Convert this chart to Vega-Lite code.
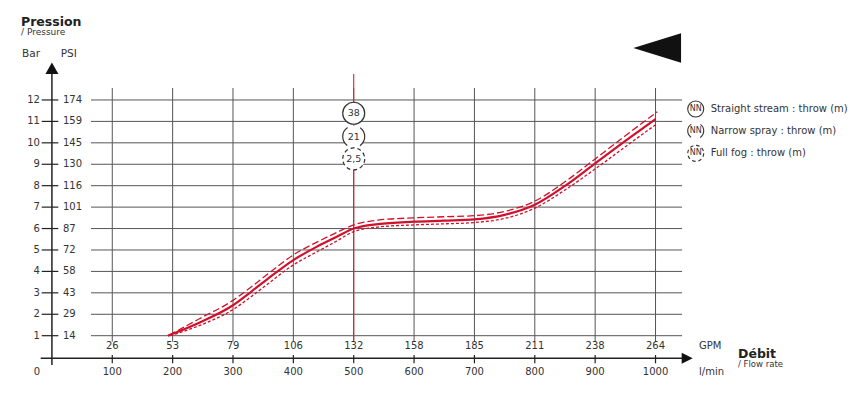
{
  "$schema": "https://vega.github.io/schema/vega-lite/v6.json",
  "width": 850,
  "height": 402,
  "padding": 0,
  "autosize": {"type": "none"},
  "background": "white",
  "config": {
    "view": {"stroke": null},
    "text": {"font": "DejaVu Sans", "fill": "#333", "fontSize": 10}
  },
  "datasets": {
    "bars": [
      {"bar": 1, "psi": 14}, {"bar": 2, "psi": 29}, {"bar": 3, "psi": 43}, {"bar": 4, "psi": 58},
      {"bar": 5, "psi": 72}, {"bar": 6, "psi": 87}, {"bar": 7, "psi": 101}, {"bar": 8, "psi": 116},
      {"bar": 9, "psi": 130}, {"bar": 10, "psi": 145}, {"bar": 11, "psi": 159}, {"bar": 12, "psi": 174}
    ],
    "flows": [
      {"lmin": 100, "gpm": 26}, {"lmin": 200, "gpm": 53}, {"lmin": 300, "gpm": 79}, {"lmin": 400, "gpm": 106},
      {"lmin": 500, "gpm": 132}, {"lmin": 600, "gpm": 158}, {"lmin": 700, "gpm": 185}, {"lmin": 800, "gpm": 211},
      {"lmin": 900, "gpm": 238}, {"lmin": 1000, "gpm": 264}
    ],
    "curves": [
      {"lmin": 192, "bar": 1.0, "series": "solid"}, {"lmin": 245, "bar": 1.62, "series": "solid"},
      {"lmin": 300, "bar": 2.42, "series": "solid"}, {"lmin": 330, "bar": 3.05, "series": "solid"},
      {"lmin": 356, "bar": 3.62, "series": "solid"}, {"lmin": 400, "bar": 4.53, "series": "solid"},
      {"lmin": 440, "bar": 5.17, "series": "solid"}, {"lmin": 472, "bar": 5.62, "series": "solid"},
      {"lmin": 500, "bar": 6.0, "series": "solid"}, {"lmin": 540, "bar": 6.21, "series": "solid"},
      {"lmin": 600, "bar": 6.32, "series": "solid"}, {"lmin": 650, "bar": 6.37, "series": "solid"},
      {"lmin": 700, "bar": 6.43, "series": "solid"}, {"lmin": 750, "bar": 6.64, "series": "solid"},
      {"lmin": 800, "bar": 7.11, "series": "solid"}, {"lmin": 850, "bar": 7.99, "series": "solid"},
      {"lmin": 900, "bar": 9.04, "series": "solid"}, {"lmin": 950, "bar": 10.09, "series": "solid"},
      {"lmin": 1000, "bar": 11.11, "series": "solid"},
      {"lmin": 194, "bar": 1.02, "series": "long"}, {"lmin": 245, "bar": 1.8, "series": "long"},
      {"lmin": 300, "bar": 2.65, "series": "long"}, {"lmin": 330, "bar": 3.27, "series": "long"},
      {"lmin": 356, "bar": 3.84, "series": "long"}, {"lmin": 400, "bar": 4.77, "series": "long"},
      {"lmin": 440, "bar": 5.38, "series": "long"}, {"lmin": 472, "bar": 5.82, "series": "long"},
      {"lmin": 500, "bar": 6.17, "series": "long"}, {"lmin": 540, "bar": 6.39, "series": "long"},
      {"lmin": 600, "bar": 6.5, "series": "long"}, {"lmin": 650, "bar": 6.55, "series": "long"},
      {"lmin": 700, "bar": 6.6, "series": "long"}, {"lmin": 750, "bar": 6.8, "series": "long"},
      {"lmin": 800, "bar": 7.28, "series": "long"}, {"lmin": 850, "bar": 8.18, "series": "long"},
      {"lmin": 900, "bar": 9.25, "series": "long"}, {"lmin": 950, "bar": 10.33, "series": "long"},
      {"lmin": 1003, "bar": 11.45, "series": "long"},
      {"lmin": 196, "bar": 1.0, "series": "short"}, {"lmin": 245, "bar": 1.48, "series": "short"},
      {"lmin": 300, "bar": 2.22, "series": "short"}, {"lmin": 330, "bar": 2.82, "series": "short"},
      {"lmin": 356, "bar": 3.38, "series": "short"}, {"lmin": 400, "bar": 4.3, "series": "short"},
      {"lmin": 440, "bar": 4.93, "series": "short"}, {"lmin": 472, "bar": 5.42, "series": "short"},
      {"lmin": 500, "bar": 5.86, "series": "short"}, {"lmin": 540, "bar": 6.07, "series": "short"},
      {"lmin": 600, "bar": 6.17, "series": "short"}, {"lmin": 650, "bar": 6.22, "series": "short"},
      {"lmin": 700, "bar": 6.28, "series": "short"}, {"lmin": 750, "bar": 6.47, "series": "short"},
      {"lmin": 800, "bar": 6.95, "series": "short"}, {"lmin": 850, "bar": 7.8, "series": "short"},
      {"lmin": 900, "bar": 8.78, "series": "short"}, {"lmin": 950, "bar": 9.82, "series": "short"},
      {"lmin": 1000, "bar": 10.84, "series": "short"}
    ],
    "throws": [
      {"type": "Straight stream", "throw": "38", "label": "Straight stream : throw (m)"},
      {"type": "Narrow spray", "throw": "21", "label": "Narrow spray : throw (m)"},
      {"type": "Full fog", "throw": "2,5", "label": "Full fog : throw (m)"}
    ]
  },
  "layer": [
    {
      "data": {"name": "bars"},
      "mark": {"type": "rule", "color": "#555", "strokeWidth": 1},
      "encoding": {
        "y": {"field": "bar", "type": "quantitative", "scale": {"domain": [-2.094, 16.665], "nice": false, "zero": false}, "axis": null},
        "x": {"datum": 64.8, "type": "quantitative", "scale": {"domain": [-86.0, 1322.2], "nice": false, "zero": false}, "axis": null},
        "x2": {"datum": 1044}
      }
    },
    {
      "data": {"name": "flows"},
      "mark": {"type": "rule", "color": "#555", "strokeWidth": 1},
      "encoding": {
        "x": {"field": "lmin", "type": "quantitative", "scale": {"domain": [-86.0, 1322.2], "nice": false, "zero": false}, "axis": null},
        "y": {"datum": 12.56, "type": "quantitative", "scale": {"domain": [-2.094, 16.665], "nice": false, "zero": false}, "axis": null},
        "y2": {"datum": 0.72}
      }
    },
    {
      "data": {"values": [{"lmin": 500}]},
      "mark": {"type": "rule", "color": "#e8202a", "strokeWidth": 1.1},
      "encoding": {
        "x": {"field": "lmin", "type": "quantitative", "scale": {"domain": [-86.0, 1322.2], "nice": false, "zero": false}, "axis": null},
        "y": {"datum": 13.21, "type": "quantitative", "scale": {"domain": [-2.094, 16.665], "nice": false, "zero": false}, "axis": null},
        "y2": {"datum": 0.78}
      }
    },
    {
      "data": {"name": "bars"},
      "mark": {"type": "rule", "color": "#222", "strokeWidth": 1.2},
      "encoding": {
        "y": {"field": "bar", "type": "quantitative", "scale": {"domain": [-2.094, 16.665], "nice": false, "zero": false}, "axis": null},
        "x": {"datum": -16.9, "type": "quantitative", "scale": {"domain": [-86.0, 1322.2], "nice": false, "zero": false}, "axis": null},
        "x2": {"datum": 10.6}
      }
    },
    {
      "data": {"name": "flows"},
      "mark": {"type": "rule", "color": "#222", "strokeWidth": 1.2},
      "encoding": {
        "x": {"field": "lmin", "type": "quantitative", "scale": {"domain": [-86.0, 1322.2], "nice": false, "zero": false}, "axis": null},
        "y": {"datum": 0.099, "type": "quantitative", "scale": {"domain": [-2.094, 16.665], "nice": false, "zero": false}, "axis": null},
        "y2": {"datum": -0.288}
      }
    },
    {
      "data": {"values": [{}]},
      "mark": {"type": "rule", "color": "#222", "strokeWidth": 1.5},
      "encoding": {
        "x": {"datum": 0, "type": "quantitative", "scale": {"domain": [-86.0, 1322.2], "nice": false, "zero": false}, "axis": null},
        "y": {"datum": 13.3, "type": "quantitative", "scale": {"domain": [-2.094, 16.665], "nice": false, "zero": false}, "axis": null},
        "y2": {"datum": -0.37}
      }
    },
    {
      "data": {"values": [{}]},
      "mark": {"type": "rule", "color": "#222", "strokeWidth": 1.5},
      "encoding": {
        "y": {"datum": -0.055, "type": "quantitative", "scale": {"domain": [-2.094, 16.665], "nice": false, "zero": false}, "axis": null},
        "x": {"datum": -18.6, "type": "quantitative", "scale": {"domain": [-86.0, 1322.2], "nice": false, "zero": false}, "axis": null},
        "x2": {"datum": 1049}
      }
    },
    {
      "data": {"values": [{}]},
      "mark": {"type": "point", "shape": "triangle-up", "size": 169, "filled": true, "color": "#111", "opacity": 1},
      "encoding": {
        "x": {"datum": 0, "type": "quantitative", "scale": {"domain": [-86.0, 1322.2], "nice": false, "zero": false}, "axis": null},
        "y": {"datum": 13.48, "type": "quantitative", "scale": {"domain": [-2.094, 16.665], "nice": false, "zero": false}, "axis": null}
      }
    },
    {
      "data": {"values": [{}]},
      "mark": {"type": "point", "shape": "M1,0L-1,-1L-1,1Z", "size": 121, "filled": true, "color": "#111", "opacity": 1},
      "encoding": {
        "x": {"datum": 1052.5, "type": "quantitative", "scale": {"domain": [-86.0, 1322.2], "nice": false, "zero": false}, "axis": null},
        "y": {"datum": -0.055, "type": "quantitative", "scale": {"domain": [-2.094, 16.665], "nice": false, "zero": false}, "axis": null}
      }
    },
    {
      "data": {"values": [{}]},
      "mark": {"type": "point", "shape": "M-1,0L1,-0.616L1,0.616Z", "size": 2275, "filled": true, "color": "#111", "opacity": 1},
      "encoding": {
        "x": {"datum": 1002.8, "type": "quantitative", "scale": {"domain": [-86.0, 1322.2], "nice": false, "zero": false}, "axis": null},
        "y": {"datum": 14.425, "type": "quantitative", "scale": {"domain": [-2.094, 16.665], "nice": false, "zero": false}, "axis": null}
      }
    },
    {
      "data": {"name": "curves"},
      "transform": [{"filter": "datum.series === 'long'"}],
      "mark": {"type": "line", "color": "#d0112b", "strokeWidth": 1.3, "strokeDash": [7, 3], "interpolate": "monotone"},
      "encoding": {
        "x": {"field": "lmin", "type": "quantitative", "scale": {"domain": [-86.0, 1322.2], "nice": false, "zero": false}, "axis": null},
        "y": {"field": "bar", "type": "quantitative", "scale": {"domain": [-2.094, 16.665], "nice": false, "zero": false}, "axis": null}
      }
    },
    {
      "data": {"name": "curves"},
      "transform": [{"filter": "datum.series === 'short'"}],
      "mark": {"type": "line", "color": "#d0112b", "strokeWidth": 1.3, "strokeDash": [3, 2], "interpolate": "monotone"},
      "encoding": {
        "x": {"field": "lmin", "type": "quantitative", "scale": {"domain": [-86.0, 1322.2], "nice": false, "zero": false}, "axis": null},
        "y": {"field": "bar", "type": "quantitative", "scale": {"domain": [-2.094, 16.665], "nice": false, "zero": false}, "axis": null}
      }
    },
    {
      "data": {"name": "curves"},
      "transform": [{"filter": "datum.series === 'solid'"}],
      "mark": {"type": "line", "color": "#d0112b", "strokeWidth": 2.2, "interpolate": "monotone"},
      "encoding": {
        "x": {"field": "lmin", "type": "quantitative", "scale": {"domain": [-86.0, 1322.2], "nice": false, "zero": false}, "axis": null},
        "y": {"field": "bar", "type": "quantitative", "scale": {"domain": [-2.094, 16.665], "nice": false, "zero": false}, "axis": null}
      }
    },
    {
      "data": {"name": "throws"},
      "transform": [{"filter": "datum.type === 'Straight stream'"}],
      "encoding": {
        "x": {"datum": 500, "type": "quantitative", "scale": {"domain": [-86.0, 1322.2], "nice": false, "zero": false}, "axis": null},
        "y": {"datum": 11.38, "type": "quantitative", "scale": {"domain": [-2.094, 16.665], "nice": false, "zero": false}, "axis": null}
      },
      "layer": [
        {"mark": {"type": "point", "shape": "circle", "size": 484, "filled": false, "fill": "white", "fillOpacity": 1, "stroke": "#333", "strokeWidth": 1.2, "opacity": 1}},
        {"mark": {"type": "text", "align": "center", "baseline": "middle", "fontSize": 9.5, "fill": "#333"}, "encoding": {"text": {"field": "throw"}}}
      ]
    },
    {
      "data": {"name": "throws"},
      "transform": [{"filter": "datum.type === 'Narrow spray'"}],
      "encoding": {
        "x": {"datum": 500, "type": "quantitative", "scale": {"domain": [-86.0, 1322.2], "nice": false, "zero": false}, "axis": null},
        "y": {"datum": 10.29, "type": "quantitative", "scale": {"domain": [-2.094, 16.665], "nice": false, "zero": false}, "axis": null}
      },
      "layer": [
        {"mark": {"type": "point", "shape": "circle", "size": 484, "filled": false, "fill": "white", "fillOpacity": 1, "stroke": "#333", "strokeWidth": 1.2, "opacity": 1, "strokeDash": [10.55, 13.4, 21.1, 13.4, 10.55, 0]}},
        {"mark": {"type": "text", "align": "center", "baseline": "middle", "fontSize": 9.5, "fill": "#333"}, "encoding": {"text": {"field": "throw"}}}
      ]
    },
    {
      "data": {"name": "throws"},
      "transform": [{"filter": "datum.type === 'Full fog'"}],
      "encoding": {
        "x": {"datum": 500, "type": "quantitative", "scale": {"domain": [-86.0, 1322.2], "nice": false, "zero": false}, "axis": null},
        "y": {"datum": 9.25, "type": "quantitative", "scale": {"domain": [-2.094, 16.665], "nice": false, "zero": false}, "axis": null}
      },
      "layer": [
        {"mark": {"type": "point", "shape": "circle", "size": 484, "filled": false, "fill": "white", "fillOpacity": 1, "stroke": "#333", "strokeWidth": 1.2, "opacity": 1, "strokeDash": [3.9, 3]}},
        {"mark": {"type": "text", "align": "center", "baseline": "middle", "fontSize": 9.5, "fill": "#333"}, "encoding": {"text": {"field": "throw"}}}
      ]
    },
    {
      "data": {"name": "throws"},
      "transform": [{"filter": "datum.type === 'Straight stream'"}],
      "encoding": {
        "x": {"datum": 1066.6, "type": "quantitative", "scale": {"domain": [-86.0, 1322.2], "nice": false, "zero": false}, "axis": null},
        "y": {"datum": 11.58, "type": "quantitative", "scale": {"domain": [-2.094, 16.665], "nice": false, "zero": false}, "axis": null}
      },
      "layer": [
        {"mark": {"type": "point", "shape": "circle", "size": 256, "filled": false, "fill": "white", "fillOpacity": 1, "stroke": "#333", "strokeWidth": 1.1, "opacity": 1}},
        {"mark": {"type": "text", "align": "center", "baseline": "middle", "fontSize": 8, "fill": "#333", "text": "NN"}},
        {"mark": {"type": "text", "align": "left", "baseline": "middle", "fontSize": 10, "fill": "#333", "dx": 15}, "encoding": {"text": {"field": "label"}}}
      ]
    },
    {
      "data": {"name": "throws"},
      "transform": [{"filter": "datum.type === 'Narrow spray'"}],
      "encoding": {
        "x": {"datum": 1066.6, "type": "quantitative", "scale": {"domain": [-86.0, 1322.2], "nice": false, "zero": false}, "axis": null},
        "y": {"datum": 10.56, "type": "quantitative", "scale": {"domain": [-2.094, 16.665], "nice": false, "zero": false}, "axis": null}
      },
      "layer": [
        {"mark": {"type": "point", "shape": "circle", "size": 256, "filled": false, "fill": "white", "fillOpacity": 1, "stroke": "#333", "strokeWidth": 1.1, "opacity": 1, "strokeDash": [7.7, 9.7, 15.4, 9.7, 7.7, 0]}},
        {"mark": {"type": "text", "align": "center", "baseline": "middle", "fontSize": 8, "fill": "#333", "text": "NN"}},
        {"mark": {"type": "text", "align": "left", "baseline": "middle", "fontSize": 10, "fill": "#333", "dx": 15}, "encoding": {"text": {"field": "label"}}}
      ]
    },
    {
      "data": {"name": "throws"},
      "transform": [{"filter": "datum.type === 'Full fog'"}],
      "encoding": {
        "x": {"datum": 1066.6, "type": "quantitative", "scale": {"domain": [-86.0, 1322.2], "nice": false, "zero": false}, "axis": null},
        "y": {"datum": 9.51, "type": "quantitative", "scale": {"domain": [-2.094, 16.665], "nice": false, "zero": false}, "axis": null}
      },
      "layer": [
        {"mark": {"type": "point", "shape": "circle", "size": 256, "filled": false, "fill": "white", "fillOpacity": 1, "stroke": "#333", "strokeWidth": 1.1, "opacity": 1, "strokeDash": [3.6, 2.7]}},
        {"mark": {"type": "text", "align": "center", "baseline": "middle", "fontSize": 8, "fill": "#333", "text": "NN"}},
        {"mark": {"type": "text", "align": "left", "baseline": "middle", "fontSize": 10, "fill": "#333", "dx": 15}, "encoding": {"text": {"field": "label"}}}
      ]
    },
    {
      "data": {"name": "bars"},
      "mark": {"type": "text", "align": "right", "baseline": "middle", "dx": -12},
      "encoding": {
        "x": {"datum": 0, "type": "quantitative", "scale": {"domain": [-86.0, 1322.2], "nice": false, "zero": false}, "axis": null},
        "y": {"field": "bar", "type": "quantitative", "scale": {"domain": [-2.094, 16.665], "nice": false, "zero": false}, "axis": null},
        "text": {"field": "bar"}
      }
    },
    {
      "data": {"name": "bars"},
      "mark": {"type": "text", "align": "left", "baseline": "middle", "dx": 11},
      "encoding": {
        "x": {"datum": 0, "type": "quantitative", "scale": {"domain": [-86.0, 1322.2], "nice": false, "zero": false}, "axis": null},
        "y": {"field": "bar", "type": "quantitative", "scale": {"domain": [-2.094, 16.665], "nice": false, "zero": false}, "axis": null},
        "text": {"field": "psi"}
      }
    },
    {
      "data": {"name": "flows"},
      "mark": {"type": "text", "align": "center", "baseline": "middle", "dy": -11},
      "encoding": {
        "x": {"field": "lmin", "type": "quantitative", "scale": {"domain": [-86.0, 1322.2], "nice": false, "zero": false}, "axis": null},
        "y": {"datum": 0, "type": "quantitative", "scale": {"domain": [-2.094, 16.665], "nice": false, "zero": false}, "axis": null},
        "text": {"field": "gpm"}
      }
    },
    {
      "data": {"name": "flows"},
      "mark": {"type": "text", "align": "center", "baseline": "middle", "dy": 14.6},
      "encoding": {
        "x": {"field": "lmin", "type": "quantitative", "scale": {"domain": [-86.0, 1322.2], "nice": false, "zero": false}, "axis": null},
        "y": {"datum": 0, "type": "quantitative", "scale": {"domain": [-2.094, 16.665], "nice": false, "zero": false}, "axis": null},
        "text": {"field": "lmin"}
      }
    },
    {
      "data": {"values": [{"lmin": 0}]},
      "mark": {"type": "text", "align": "center", "baseline": "middle", "dy": 14.6, "dx": -15},
      "encoding": {
        "x": {"field": "lmin", "type": "quantitative", "scale": {"domain": [-86.0, 1322.2], "nice": false, "zero": false}, "axis": null},
        "y": {"datum": 0, "type": "quantitative", "scale": {"domain": [-2.094, 16.665], "nice": false, "zero": false}, "axis": null},
        "text": {"field": "lmin"}
      }
    },
    {
      "data": {"values": [{}]},
      "mark": {"type": "text", "align": "left", "baseline": "middle", "dy": -11, "text": "GPM"},
      "encoding": {
        "x": {"datum": 1072.1, "type": "quantitative", "scale": {"domain": [-86.0, 1322.2], "nice": false, "zero": false}, "axis": null},
        "y": {"datum": 0, "type": "quantitative", "scale": {"domain": [-2.094, 16.665], "nice": false, "zero": false}, "axis": null}
      }
    },
    {
      "data": {"values": [{}]},
      "mark": {"type": "text", "align": "left", "baseline": "middle", "dy": 14.6, "text": "l/min"},
      "encoding": {
        "x": {"datum": 1072.1, "type": "quantitative", "scale": {"domain": [-86.0, 1322.2], "nice": false, "zero": false}, "axis": null},
        "y": {"datum": 0, "type": "quantitative", "scale": {"domain": [-2.094, 16.665], "nice": false, "zero": false}, "axis": null}
      }
    },
    {
      "data": {"values": [{}]},
      "mark": {"type": "text", "align": "left", "baseline": "alphabetic", "dy": 0.5, "fontSize": 12.5, "fontWeight": "bold", "fill": "#222", "text": "Débit"},
      "encoding": {
        "x": {"datum": 1136.7, "type": "quantitative", "scale": {"domain": [-86.0, 1322.2], "nice": false, "zero": false}, "axis": null},
        "y": {"datum": 0, "type": "quantitative", "scale": {"domain": [-2.094, 16.665], "nice": false, "zero": false}, "axis": null}
      }
    },
    {
      "data": {"values": [{}]},
      "mark": {"type": "text", "align": "left", "baseline": "middle", "dy": 7, "fontSize": 8.5, "fill": "#333", "text": "/ Flow rate"},
      "encoding": {
        "x": {"datum": 1136.7, "type": "quantitative", "scale": {"domain": [-86.0, 1322.2], "nice": false, "zero": false}, "axis": null},
        "y": {"datum": 0, "type": "quantitative", "scale": {"domain": [-2.094, 16.665], "nice": false, "zero": false}, "axis": null}
      }
    },
    {
      "data": {"values": [{}]},
      "mark": {"type": "text", "align": "left", "baseline": "alphabetic", "fontSize": 12.5, "fontWeight": "bold", "fill": "#222", "text": "Pression"},
      "encoding": {
        "x": {"datum": -51.2, "type": "quantitative", "scale": {"domain": [-86.0, 1322.2], "nice": false, "zero": false}, "axis": null},
        "y": {"datum": 15.45, "type": "quantitative", "scale": {"domain": [-2.094, 16.665], "nice": false, "zero": false}, "axis": null}
      }
    },
    {
      "data": {"values": [{}]},
      "mark": {"type": "text", "align": "left", "baseline": "alphabetic", "fontSize": 9, "fill": "#333", "text": "/ Pressure"},
      "encoding": {
        "x": {"datum": -51.2, "type": "quantitative", "scale": {"domain": [-86.0, 1322.2], "nice": false, "zero": false}, "axis": null},
        "y": {"datum": 15.01, "type": "quantitative", "scale": {"domain": [-2.094, 16.665], "nice": false, "zero": false}, "axis": null}
      }
    },
    {
      "data": {"values": [{}]},
      "mark": {"type": "text", "align": "left", "baseline": "alphabetic", "fontSize": 10.5, "fill": "#333", "text": "Bar"},
      "encoding": {
        "x": {"datum": -49.5, "type": "quantitative", "scale": {"domain": [-86.0, 1322.2], "nice": false, "zero": false}, "axis": null},
        "y": {"datum": 14.0, "type": "quantitative", "scale": {"domain": [-2.094, 16.665], "nice": false, "zero": false}, "axis": null}
      }
    },
    {
      "data": {"values": [{}]},
      "mark": {"type": "text", "align": "left", "baseline": "alphabetic", "fontSize": 10.5, "fill": "#333", "text": "PSI"},
      "encoding": {
        "x": {"datum": 14.6, "type": "quantitative", "scale": {"domain": [-86.0, 1322.2], "nice": false, "zero": false}, "axis": null},
        "y": {"datum": 14.0, "type": "quantitative", "scale": {"domain": [-2.094, 16.665], "nice": false, "zero": false}, "axis": null}
      }
    }
  ]
}
